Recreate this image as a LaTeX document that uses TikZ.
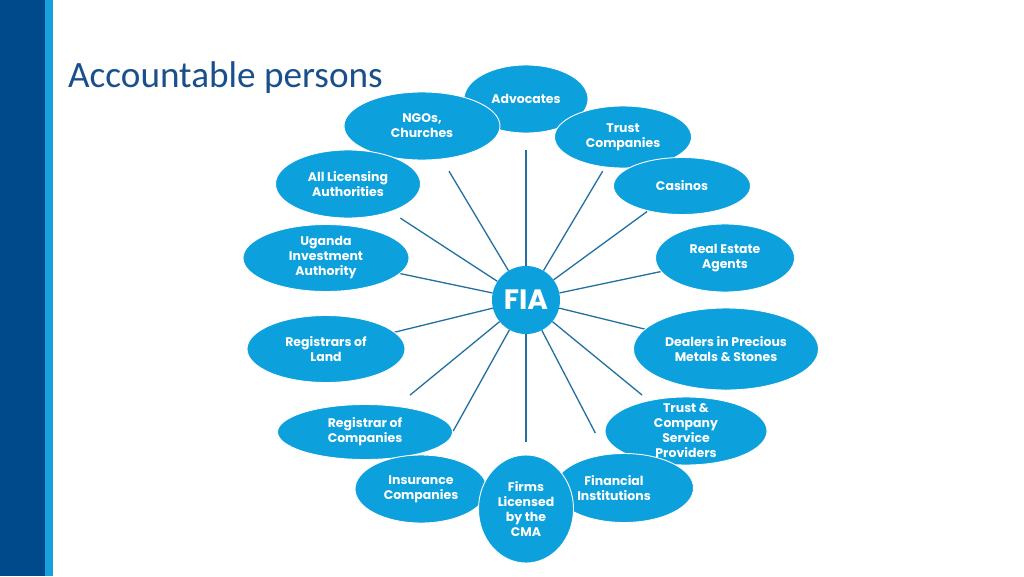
\documentclass[tikz,border=0pt]{standalone}
\usepackage{fontspec}
\setmainfont{Carlito}
\newfontfamily\labfont{Poppins}
\usetikzlibrary{shapes.geometric,calc}
\definecolor{darkbar}{RGB}{0,74,140}
\definecolor{lightbar}{RGB}{22,160,220}
\definecolor{ellfill}{RGB}{12,160,220}
\definecolor{spokecol}{RGB}{35,112,160}
\definecolor{titlecol}{RGB}{25,80,140}
\pgfdeclarelayer{bg}
\pgfdeclarelayer{paper}
\pgfsetlayers{paper,bg,main}
\tikzset{
  ell/.style={ellipse, fill=ellfill, draw=white, line width=0.9pt, inner sep=0pt},
  lab/.style={text=white, align=center, font=\labfont\bfseries\fontsize{12.5}{15}\selectfont, inner sep=0pt},
  spoke/.style={draw=spokecol, line width=1.3pt},
}
\begin{document}
\begin{tikzpicture}[x=1pt,y=-1pt]
\useasboundingbox (0,0) rectangle (1024,576);
\begin{pgfonlayer}{paper}
\fill[white] (0,0) rectangle (1024,576);
\fill[darkbar] (0,0) rectangle (45,576);
\fill[lightbar] (45,0) rectangle (53,576);
\end{pgfonlayer}
\node[anchor=base west, inner sep=0pt, text=titlecol, font=\fontsize{37.2}{40}\selectfont] (title) at (68,87) {Accountable persons};

% ellipses
\node[ell, minimum width=124, minimum height=68] (adv) at (526,99) {};
\node[ell, minimum width=156, minimum height=68] (ngo) at (422,126) {};
\node[ell, minimum width=137, minimum height=62] (trc) at (623,137) {};
\node[ell, minimum width=137, minimum height=57] (cas) at (682,186) {};
\node[ell, minimum width=145, minimum height=68] (lic) at (348,184) {};
\node[ell, minimum width=166, minimum height=67] (uia) at (326,258) {};
\node[ell, minimum width=139, minimum height=68] (rea) at (725,258) {};
\node[ell, minimum width=158, minimum height=67] (rol) at (326,349) {};
\node[ell, minimum width=185, minimum height=82] (dpm) at (726,349) {};
\node[ell, minimum width=175, minimum height=55] (roc) at (365,432) {};
\node[ell, minimum width=162, minimum height=68] (tcs) at (686,431) {};
\node[ell, minimum width=132, minimum height=68] (ins) at (421,489) {};
\node[ell, minimum width=139, minimum height=69] (fin) at (624,488) {};
\node[ell, minimum width=95, minimum height=108] (cma) at (526,509) {};

% centre
\node[circle, fill=ellfill, minimum size=68, inner sep=0pt, text=white, font=\labfont\bfseries\fontsize{28}{30}\selectfont] (fia) at (526,300) {FIA};

% labels
\node[lab] (advt) at (adv) {Advocates};
\node[lab] (ngot) at (ngo) {NGOs,\\Churches};
\node[lab] (trct) at (trc) {Trust\\Companies};
\node[lab] (cast) at (cas) {Casinos};
\node[lab] (lict) at (lic) {All Licensing\\Authorities};
\node[lab] (uiat) at (uia) {Uganda\\Investment\\Authority};
\node[lab] (reat) at (rea) {Real Estate\\Agents};
\node[lab] (rolt) at (rol) {Registrars of\\Land};
\node[lab] (dpmt) at (dpm) {Dealers in Precious\\Metals \& Stones};
\node[lab] (roct) at (roc) {Registrar of\\Companies};
\node[lab] (tcst) at (tcs) {Trust \&\\Company\\Service\\Providers};
\node[lab] (inst) at (ins) {Insurance\\Companies};
\node[lab] (fint) at ($(fin)+(-10,0)$) {Financial\\Institutions};
\node[lab] (cmat) at (cma) {Firms\\Licensed\\by the\\CMA};

% spokes
\begin{pgfonlayer}{bg}
\foreach \n in {adv,ngo,trc,cas,lic,uia,rea,rol,dpm,roc,tcs,ins,fin}
  \draw[spoke] (fia) -- ($(fia.center)!150pt!(\n.center)$);
\draw[spoke] (fia) -- ($(fia.center)!142pt!(cma.center)$);
\end{pgfonlayer}
\end{tikzpicture}
\end{document}
